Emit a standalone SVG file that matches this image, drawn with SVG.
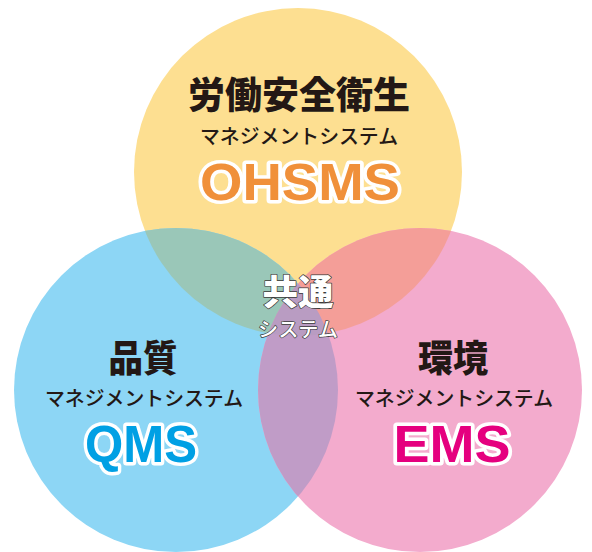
<svg xmlns="http://www.w3.org/2000/svg" width="592" height="552" viewBox="0 0 592 552">
<defs>
<clipPath id="cT"><circle cx="298" cy="172" r="164"/></clipPath>
<clipPath id="cL"><circle cx="176" cy="390" r="162"/></clipPath>
<clipPath id="cR"><circle cx="420" cy="390" r="162"/></clipPath>
</defs>
<style>
.jp{font-family:"Noto Sans CJK JP","Noto Sans CJK SC",sans-serif;text-anchor:middle}
.title{font-size:37px;font-weight:900;fill:#231815}
.sub{font-size:20px;font-weight:500;fill:#231815}
.abbr{font-family:"Liberation Sans",Arial,sans-serif;font-weight:bold;font-size:51px;text-anchor:middle;stroke:#fff;stroke-width:7;stroke-linejoin:round;paint-order:stroke}
.common{fill:#fff;stroke:#3a3a3a;stroke-width:1.4;paint-order:stroke;stroke-linejoin:round}
</style>
<rect width="592" height="552" fill="#fff"/>
<g id="circles">
<g id="ohsms-circle"><circle cx="298" cy="172" r="164" fill="#FDDF91"/></g>
<g id="qms-circle"><circle cx="176" cy="390" r="162" fill="#8DD6F5"/></g>
<g id="ems-circle"><circle cx="420" cy="390" r="162" fill="#F3ABCD"/></g>
<g id="overlaps">
<g clip-path="url(#cT)"><circle cx="176" cy="390" r="162" fill="#9AC7B8"/><circle cx="420" cy="390" r="162" fill="#F49E98"/></g>
<g clip-path="url(#cL)"><circle cx="420" cy="390" r="162" fill="#C09CC7"/></g>
<g clip-path="url(#cL)"><g clip-path="url(#cT)"><circle cx="420" cy="390" r="162" fill="#B99CC2"/></g></g>
</g>
</g>
<g id="ohsms">
<text class="jp title" x="299" y="109" textLength="222" lengthAdjust="spacingAndGlyphs">労働安全衛生</text>
<text class="jp sub" x="299" y="144" textLength="198" lengthAdjust="spacingAndGlyphs">マネジメントシステム</text>
<text class="abbr" x="300" y="200" fill="#F0903A" textLength="200" lengthAdjust="spacingAndGlyphs">OHSMS</text>
</g>
<g id="qms">
<text class="jp title" x="143" y="372" textLength="69" lengthAdjust="spacingAndGlyphs">品質</text>
<text class="jp sub" x="144" y="406" textLength="198" lengthAdjust="spacingAndGlyphs">マネジメントシステム</text>
<text class="abbr" x="141" y="462" fill="#00A0E4" textLength="112" lengthAdjust="spacingAndGlyphs">QMS</text>
</g>
<g id="ems">
<text class="jp title" x="453" y="372" textLength="70" lengthAdjust="spacingAndGlyphs">環境</text>
<text class="jp sub" x="454" y="406" textLength="198" lengthAdjust="spacingAndGlyphs">マネジメントシステム</text>
<text class="abbr" x="452" y="462" fill="#E5007F" textLength="117" lengthAdjust="spacingAndGlyphs">EMS</text>
</g>
<g id="common">
<text class="jp common" x="298" y="305" font-size="35" font-weight="900" textLength="71" lengthAdjust="spacingAndGlyphs">共通</text>
<text class="jp common" x="298" y="337" font-size="20" font-weight="500" textLength="80" lengthAdjust="spacingAndGlyphs">システム</text>
</g>
<g id="connectors"></g>
</svg>
